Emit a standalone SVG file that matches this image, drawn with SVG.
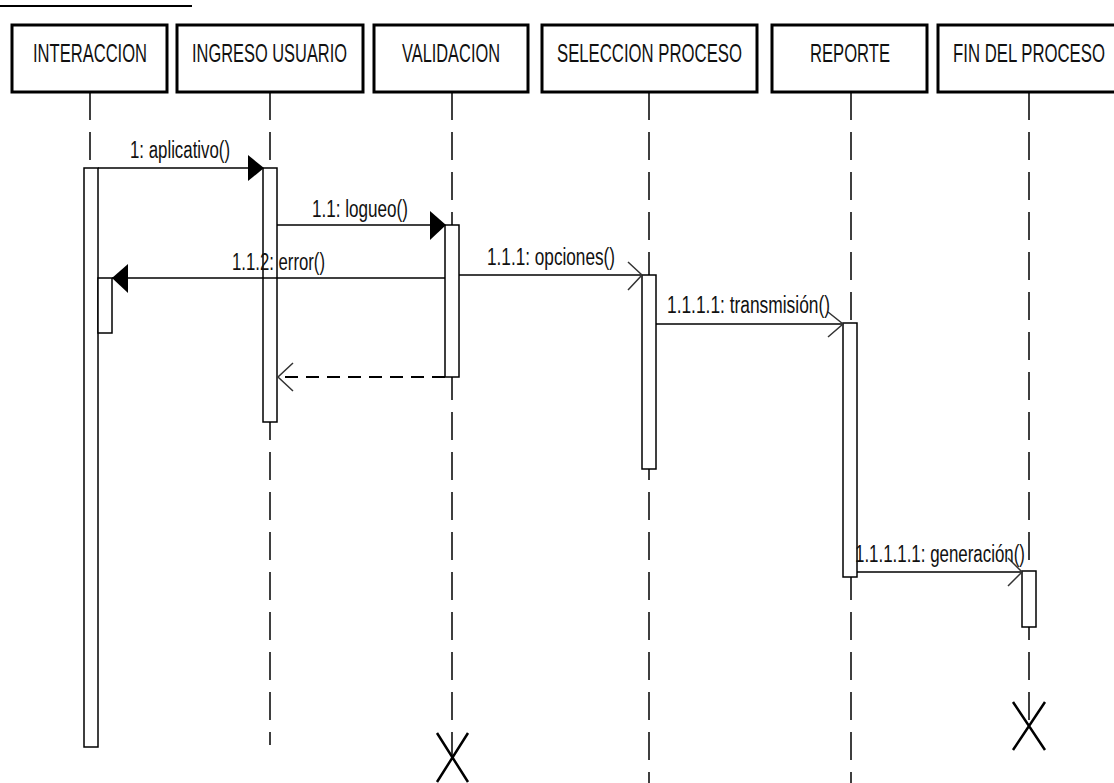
<svg xmlns="http://www.w3.org/2000/svg" width="1114" height="783" viewBox="0 0 1114 783">
<style>
.box{fill:#fff;stroke:#000;stroke-width:3}
.hd{font-family:"Liberation Sans",Arial,sans-serif;font-size:25px;fill:#111}
.lb{font-family:"Liberation Sans",Arial,sans-serif;font-size:23px;fill:#111}
.life{stroke:#000;stroke-width:1.5;stroke-dasharray:28 12;fill:none}
.act{fill:#fff;stroke:#000;stroke-width:1.5}
.msg{stroke:#000;stroke-width:1.5;fill:none}
.ret{stroke:#000;stroke-width:2;stroke-dasharray:13 8;fill:none}
.open{stroke:#333;stroke-width:1.5;fill:none}
.xm{stroke:#000;stroke-width:2.5;fill:none}
</style>
<rect width="1114" height="783" fill="#fff"/>
<line x1="0" y1="6" x2="192" y2="6" stroke="#000" stroke-width="2"/>

<g id="lifelines">
<line class="life" x1="90" y1="92" x2="90" y2="168"/>
<line class="life" x1="270" y1="92" x2="270" y2="745"/>
<line class="life" x1="452" y1="92" x2="452" y2="757"/>
<line class="life" x1="649" y1="92" x2="649" y2="783"/>
<line class="life" x1="851" y1="92" x2="851" y2="783"/>
<line class="life" x1="1029" y1="92" x2="1029" y2="726"/>
</g>

<g id="n-interaccion">
<rect class="box" x="12" y="25" width="155" height="67"/>
<text class="hd" x="33" y="62" textLength="114" lengthAdjust="spacingAndGlyphs">INTERACCION</text>
<rect class="act" x="84" y="168" width="14" height="579"/>
<rect class="act" x="98" y="278" width="14" height="55"/>
</g>
<g id="n-ingreso">
<rect class="box" x="177" y="25" width="186" height="67"/>
<text class="hd" x="192" y="62" textLength="155" lengthAdjust="spacingAndGlyphs">INGRESO USUARIO</text>
<rect class="act" x="263" y="168" width="14" height="254"/>
</g>
<g id="n-validacion">
<rect class="box" x="374" y="25" width="154" height="67"/>
<text class="hd" x="402" y="62" textLength="98" lengthAdjust="spacingAndGlyphs">VALIDACION</text>
<rect class="act" x="445" y="225" width="14" height="152"/>
<path class="xm" d="M437,733 L468,782 M468,733 L437,782"/>
</g>
<g id="n-seleccion">
<rect class="box" x="542" y="25" width="215" height="67"/>
<text class="hd" x="557" y="62" textLength="185" lengthAdjust="spacingAndGlyphs">SELECCION PROCESO</text>
<rect class="act" x="642" y="275" width="14" height="194"/>
</g>
<g id="n-reporte">
<rect class="box" x="772" y="25" width="155" height="67"/>
<text class="hd" x="810" y="62" textLength="80" lengthAdjust="spacingAndGlyphs">REPORTE</text>
<rect class="act" x="843" y="323" width="14" height="254"/>
</g>
<g id="n-fin">
<rect class="box" x="938" y="25" width="182" height="67"/>
<text class="hd" x="953" y="62" textLength="152" lengthAdjust="spacingAndGlyphs">FIN DEL PROCESO</text>
<rect class="act" x="1022" y="571" width="14" height="56"/>
<path class="xm" d="M1013,702 L1045,750 M1045,702 L1013,750"/>
</g>

<g id="connectors">
<line class="msg" x1="98" y1="168" x2="263" y2="168"/>
<polygon points="248,155 248,181 264,168" fill="#000"/>
<text class="lb" x="130" y="158" textLength="100" lengthAdjust="spacingAndGlyphs">1: aplicativo()</text>

<line class="msg" x1="277" y1="225" x2="445" y2="225"/>
<polygon points="430,211 430,240 446,225" fill="#000"/>
<text class="lb" x="312" y="217" textLength="96" lengthAdjust="spacingAndGlyphs">1.1: logueo()</text>

<line class="msg" x1="445" y1="278" x2="112" y2="278"/>
<polygon points="128,264 128,293 112,278" fill="#000"/>
<text class="lb" x="232" y="270" textLength="93" lengthAdjust="spacingAndGlyphs">1.1.2: error()</text>

<line class="msg" x1="459" y1="275" x2="642" y2="275"/>
<path class="open" d="M628,262 L642,275 L628,290"/>
<text class="lb" x="487" y="265" textLength="128" lengthAdjust="spacingAndGlyphs">1.1.1: opciones()</text>

<line class="msg" x1="656" y1="324" x2="843" y2="324"/>
<path class="open" d="M828,312 L843,324 L828,337"/>
<text class="lb" x="667" y="313" textLength="163" lengthAdjust="spacingAndGlyphs">1.1.1.1: transmisión()</text>

<line class="ret" x1="445" y1="377" x2="279" y2="377"/>
<path class="open" d="M293,363 L278,377 L293,391"/>

<line class="msg" x1="857" y1="572" x2="1022" y2="572"/>
<path class="open" d="M1008,558 L1022,572 L1008,586"/>
<text class="lb" x="855" y="562" textLength="170" lengthAdjust="spacingAndGlyphs">1.1.1.1.1: generación()</text>
</g>
</svg>
